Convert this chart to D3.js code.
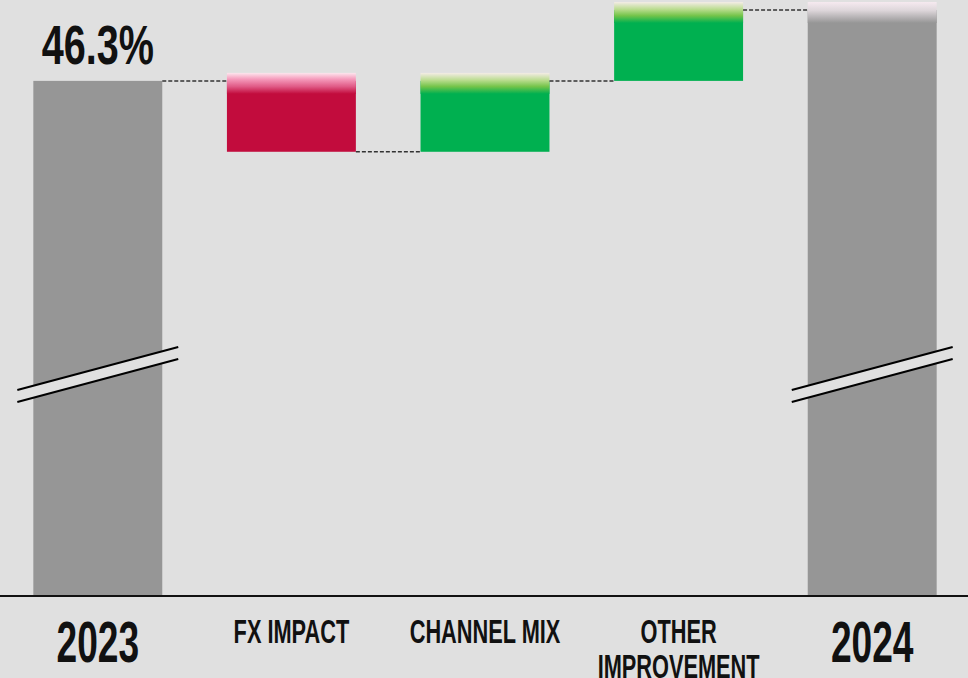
<!DOCTYPE html>
<html>
<head>
<meta charset="utf-8">
<script src="https://cdn.jsdelivr.net/npm/d3@7"></script>
<style>
  body { margin: 0; background: #e0e0e0; }
  svg { display: block; }
  .lbl { font-family: "Liberation Sans", Arial, sans-serif; font-weight: bold; fill: #111; }
</style>
</head>
<body>
<script>
//chart data
var categories = ["2023", "FX IMPACT", "CHANNEL MIX", "OTHER IMPROVEMENT", "2024"];
var labelLines = [["2023"], ["FX IMPACT"], ["CHANNEL MIX"], ["OTHER", "IMPROVEMENT"], ["2024"]];
var kinds = ["total", "delta", "delta", "delta", "total"];
var values = [46.3, -0.3, 0.3, 0.3, 46.6];
var valueLabels = ["46.3%", "", "", "", ""];

window.onload = drawChart();

function drawChart(){

    var width = 968,
        height = 678,
        baseY = 596,
        breakY = 374;

    var svg = d3.select("body")
        .append("svg")
        .attr("width", width)
        .attr("height", height);

    svg.append("rect")
        .attr("width", width)
        .attr("height", height)
        .attr("fill", "#e0e0e0");

    //gradients for the glossy caps
    var defs = svg.append("defs");
    var grads = {
        red: [["0%", "#fde6ee"], ["30%", "#f59abb"], ["65%", "#e05a86"], ["100%", "#c20c3d"]],
        green: [["0%", "#f4ece6"], ["35%", "#b9dc8e"], ["65%", "#74c44a"], ["100%", "#00b050"]],
        gray: [["0%", "#f6eaf0"], ["40%", "#ddd6da"], ["100%", "#969696"]]
    };
    Object.keys(grads).forEach(function(k){
        var g = defs.append("linearGradient")
            .attr("id", "cap-" + k)
            .attr("x1", 0).attr("y1", 0).attr("x2", 0).attr("y2", 1);
        grads[k].forEach(function(s){
            g.append("stop").attr("offset", s[0]).attr("stop-color", s[1]);
        });
    });

    //running totals for the waterfall
    var bars = [];
    var running = 0;
    categories.forEach(function(c, i){
        var start, end;
        if (kinds[i] === "total"){
            start = null;
            end = values[i];
            running = values[i];
        } else {
            start = running;
            end = running + values[i];
            running = end;
        }
        bars.push({cat: c, kind: kinds[i], start: start, end: end, value: values[i], i: i});
    });

    var x = d3.scaleBand()
        .domain(categories)
        .range([1, width + 1])
        .paddingInner(0.334)
        .paddingOuter(0.167);

    //broken axis: domain bottom sits well below the data
    var y = d3.scaleLinear()
        .domain([44.12, 46.6])
        .range([baseY, 10]);

    function barTop(d){
        return d.kind === "total" ? y(d.end) : y(Math.max(d.start, d.end));
    }
    function barBottom(d){
        return d.kind === "total" ? baseY : y(Math.min(d.start, d.end));
    }
    function barColor(d){
        if (d.kind === "total") return "#969696";
        return d.value < 0 ? "#c20c3d" : "#00b050";
    }

    svg.selectAll(".bar")
        .data(bars)
        .enter()
        .append("rect")
        .attr("class", "bar")
        .attr("x", function(d){ return x(d.cat); })
        .attr("y", barTop)
        .attr("width", x.bandwidth())
        .attr("height", function(d){ return barBottom(d) - barTop(d); })
        .attr("fill", barColor);

    //glossy caps (not on the first total)
    svg.selectAll(".cap")
        .data(bars.filter(function(d){ return d.i > 0; }))
        .enter()
        .append("rect")
        .attr("class", "cap")
        .attr("x", function(d){ return x(d.cat); })
        .attr("y", function(d){ return barTop(d) - 8; })
        .attr("width", x.bandwidth())
        .attr("height", 21)
        .attr("fill", function(d){
            if (d.kind === "total") return "url(#cap-gray)";
            return d.value < 0 ? "url(#cap-red)" : "url(#cap-green)";
        });

    //dashed connectors
    var links = bars.slice(0, -1).map(function(d, i){
        return {from: d, to: bars[i + 1], level: d.end};
    });
    svg.selectAll(".link")
        .data(links)
        .enter()
        .append("line")
        .attr("class", "link")
        .attr("x1", function(d){ return x(d.from.cat) + x.bandwidth(); })
        .attr("x2", function(d){ return x(d.to.cat); })
        .attr("y1", function(d){ return y(d.level); })
        .attr("y2", function(d){ return y(d.level); })
        .attr("stroke", "#333")
        .attr("stroke-width", 1.5)
        .attr("stroke-dasharray", "4,2");

    //axis break marks on the totals
    var totals = bars.filter(function(d){ return d.kind === "total"; });
    var brk = svg.selectAll(".brk")
        .data(totals)
        .enter()
        .append("g")
        .attr("class", "brk")
        .attr("transform", function(d){
            return "translate(" + (x(d.cat) + x.bandwidth() / 2) + "," + breakY + ")";
        });
    var half = x.bandwidth() / 2 + 16;
    brk.append("polygon")
        .attr("points", [[-half, 16], [half, -27], [half, -15], [-half, 28]].join(" "))
        .attr("fill", "#e0e0e0");
    brk.append("line")
        .attr("x1", -half).attr("y1", 16).attr("x2", half).attr("y2", -27)
        .attr("stroke", "#000").attr("stroke-width", 2);
    brk.append("line")
        .attr("x1", -half).attr("y1", 28).attr("x2", half).attr("y2", -15)
        .attr("stroke", "#000").attr("stroke-width", 2);

    //baseline
    svg.append("line")
        .attr("x1", 0).attr("x2", width)
        .attr("y1", baseY).attr("y2", baseY)
        .attr("stroke", "#111")
        .attr("stroke-width", 2);

    //value label
    svg.selectAll(".val")
        .data(bars.filter(function(d){ return valueLabels[d.i] !== ""; }))
        .enter()
        .append("text")
        .attr("class", "lbl val")
        .attr("transform", function(d){
            return "translate(" + (x(d.cat) + x.bandwidth() / 2) + "," + (barTop(d) - 17) + ") scale(0.72,1)";
        })
        .attr("text-anchor", "middle")
        .attr("font-size", 55)
        .text(function(d){ return valueLabels[d.i]; });

    //category labels
    var cats = svg.selectAll(".cat")
        .data(bars)
        .enter()
        .append("text")
        .attr("class", "lbl cat")
        .attr("text-anchor", "middle")
        .attr("font-size", function(d){ return d.kind === "total" ? 58 : 34; })
        .attr("transform", function(d){
            var yy = d.kind === "total" ? 662 : 643;
            return "translate(" + (x(d.cat) + x.bandwidth() / 2) + "," + yy + ") scale(0.64,1)";
        });
    cats.selectAll("tspan")
        .data(function(d){ return labelLines[d.i]; })
        .enter()
        .append("tspan")
        .attr("x", 0)
        .attr("dy", function(d, j){ return j === 0 ? 0 : 35; })
        .text(function(d){ return d; });
};
</script>
</body>
</html>
